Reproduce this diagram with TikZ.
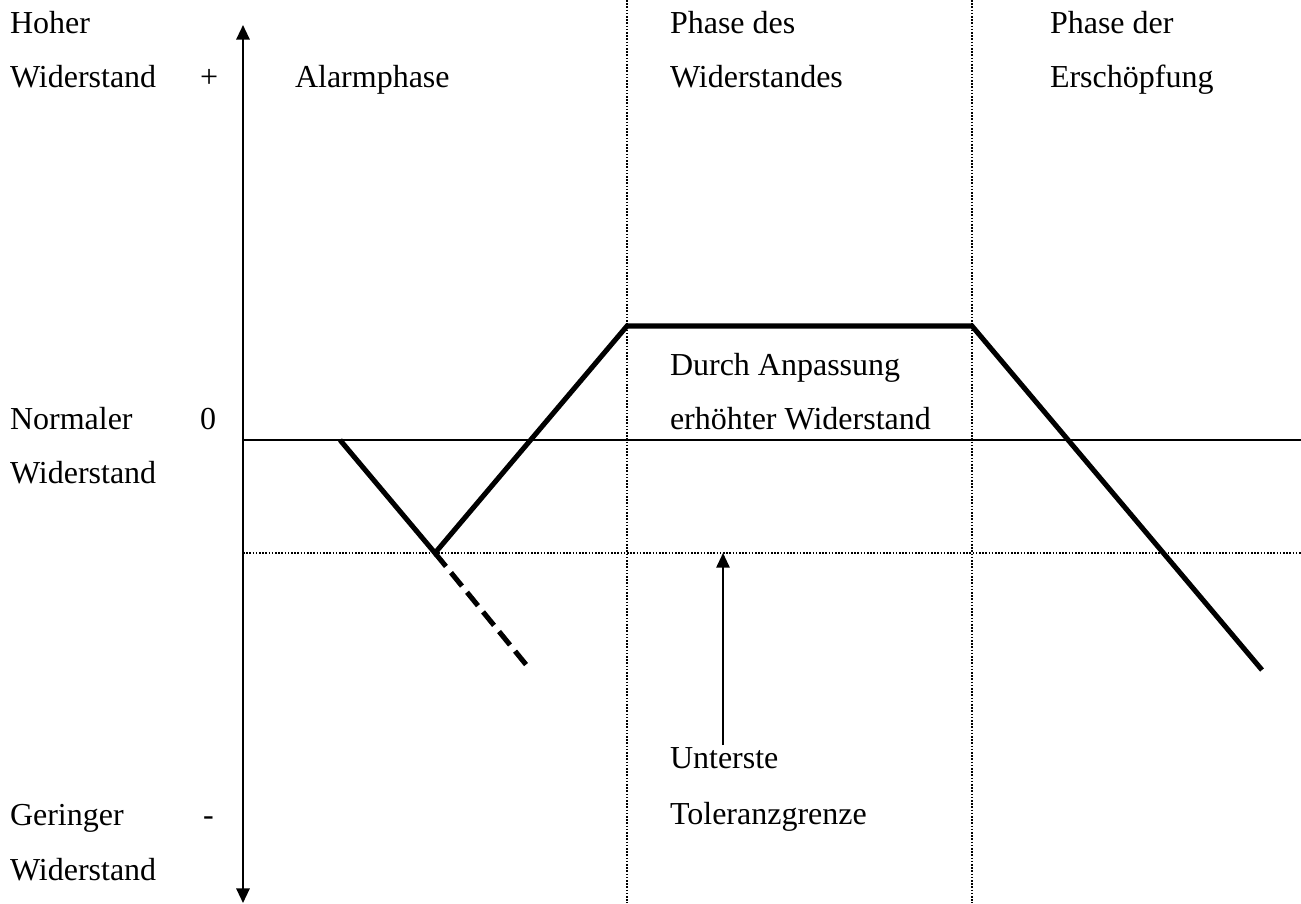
\documentclass[tikz,border=0pt]{standalone}
\usepackage{fontspec}
\setmainfont{Liberation Serif}
\usetikzlibrary{arrows.meta, positioning}
\tikzset{%
  txt/.style={anchor=base west, inner sep=0pt, outer sep=0pt, font=\fontsize{12}{14}\selectfont},
  axis/.style={line width=0.8pt, {Triangle[width=5pt,length=5.5pt]}-{Triangle[width=5pt,length=5.5pt]}},
  pointer/.style={line width=0.7pt, -{Triangle[width=5pt,length=5.5pt]}},
  level/.style={line width=0.9pt},
  guide/.style={line width=0.4pt, dash pattern=on 0.6pt off 0.6pt},
  curve/.style={line width=1.9pt, line join=miter},
  drop/.style={line width=1.9pt, dash pattern=on 6.5pt off 3pt}
}
\begin{document}
\begin{tikzpicture}[x=0.375pt, y=-0.375pt]
  \useasboundingbox (0,0) rectangle (1301,903);

  % axis and levels
  \coordinate (top) at (243,25);
  \coordinate (bottom) at (243,903);
  \coordinate (zero) at (243,440);
  \coordinate (zeroend) at (1301,440);
  \coordinate (tol) at (243,553);
  \coordinate (tolend) at (1301,553);

  % phase boundaries
  \coordinate (p1top) at (627,0);
  \coordinate (p1bot) at (627,903);
  \coordinate (p2top) at (972,0);
  \coordinate (p2bot) at (972,903);

  % curve points
  \coordinate (c0) at (340,440);
  \coordinate (c1) at (435,553);
  \coordinate (c2) at (627,326);
  \coordinate (c3) at (972,326);
  \coordinate (c4) at (1262,670);
  \coordinate (c5) at (528,667);

  \draw[guide] (p1top) -- (p1bot);
  \draw[guide] (p2top) -- (p2bot);
  \draw[guide] (tol) -- (tolend);
  \draw[level] (zero) -- (zeroend);
  \draw[axis] (bottom) -- (top);

  \draw[curve] (c0) -- (c1) -- (c2) -- (c3) -- (c4);
  \draw[drop] (c1) -- (c5);

  % left labels
  \node[txt] (hoch) at (10,33) {Hoher};
  \node[txt] (hoch2) at (10,87) {Widerstand};
  \node[txt] (plus) at (200,87) {+};
  \node[txt] (norm) at (10,429) {Normaler};
  \node[txt] (norm2) at (10,483) {Widerstand};
  \node[txt] (null) at (200,429) {0};
  \node[txt] (gering) at (10,825) {Geringer};
  \node[txt] (gering2) at (10,880) {Widerstand};
  \node[txt] (minus) at (203,825) {-};

  % phases
  \node[txt] (alarm) at (295,87) {Alarmphase};
  \node[txt] (wid) at (670,33) {Phase des};
  \node[txt] (wid2) at (670,87) {Widerstandes};
  \node[txt] (ersch) at (1050,33) {Phase der};
  \node[txt] (ersch2) at (1050,87) {Erschöpfung};

  % inner labels
  \node[txt] (anp) at (670,375) {Durch Anpassung};
  \node[txt] (anp2) at (670,429) {erhöhter Widerstand};
  \node[txt] (unt) at (670,768) {Unterste};
  \node[txt] (unt2) at (670,824) {Toleranzgrenze};

  \coordinate (tolmark) at (723,553);
  \draw[pointer] (723,745) -- (tolmark);
\end{tikzpicture}
\end{document}
